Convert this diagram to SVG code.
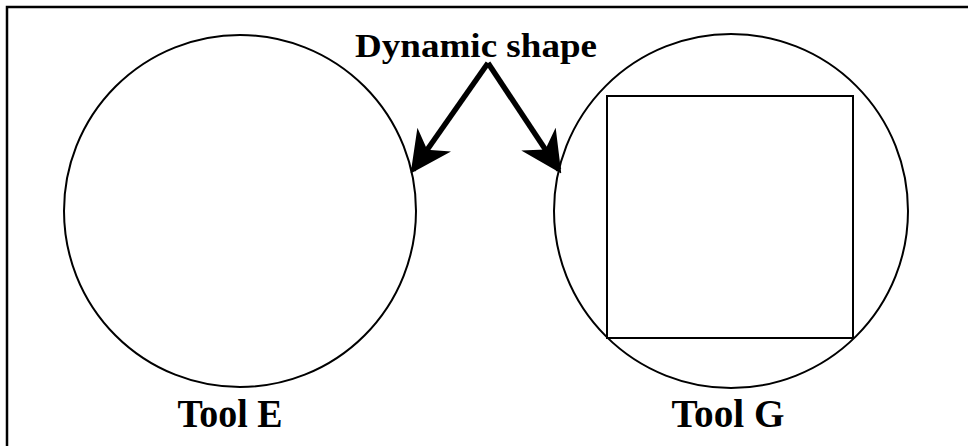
<svg xmlns="http://www.w3.org/2000/svg" width="968" height="446" viewBox="0 0 968 446">
<style>
.t{font-family:"Liberation Serif",serif;font-weight:bold;fill:#000}
.c{fill:none;stroke:#000;stroke-width:2}
.a{fill:none;stroke:#000;stroke-width:5.5}
</style>
<defs>
<marker id="ah" viewBox="0 0 10 10" refX="9" refY="5" markerWidth="7.5" markerHeight="7.5" markerUnits="strokeWidth" orient="auto">
<path d="M0,0 L10,5 L0,10 L3,5 Z" fill="#000"/>
</marker>
</defs>
<rect width="968" height="446" fill="#fff"/>
<path d="M7,446 V7 H968" fill="none" stroke="#000" stroke-width="2.5"/>
<g id="toolE">
<circle class="c" cx="240" cy="211" r="176"/>
<text class="t" x="230" y="427" font-size="40" text-anchor="middle" textLength="105" lengthAdjust="spacingAndGlyphs">Tool E</text>
</g>
<g id="toolG">
<circle class="c" cx="731" cy="211" r="177"/>
<rect class="c" x="607" y="96" width="246" height="242"/>
<text class="t" x="728" y="427" font-size="40" text-anchor="middle" textLength="113" lengthAdjust="spacingAndGlyphs">Tool G</text>
</g>
<g id="label">
<text class="t" x="476" y="57" font-size="34" text-anchor="middle" textLength="242" lengthAdjust="spacingAndGlyphs">Dynamic shape</text>
</g>
<g id="connectors">
<path class="a" d="M488,63 L413,170" marker-end="url(#ah)"/>
<path class="a" d="M488,63 L559,170" marker-end="url(#ah)"/>
</g>
</svg>
